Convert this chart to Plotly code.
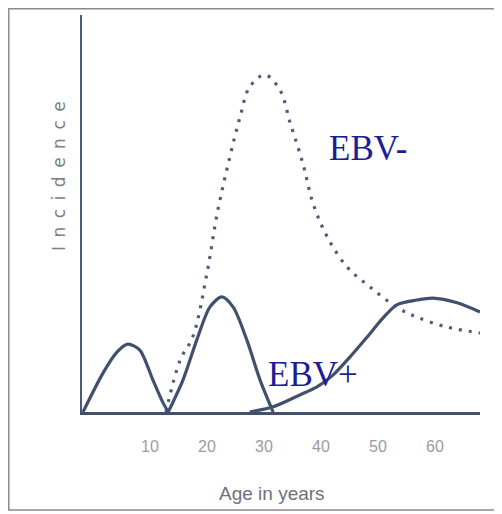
import plotly.graph_objects as go

# Age (years) and incidence (relative units, 0-100)
ebv_pos_age_1 = [-1.75, 1.75, 4.2, 6.1, 8.2, 10.5, 12.3, 13.2]
ebv_pos_inc_1 = [0, 9.8, 15.1, 17.1, 15.6, 8.1, 2.3, 0]

ebv_pos_age_2 = [13.2, 15.8, 18.2, 20.5, 22.6, 24.6, 27.0, 29.3, 31.6]
ebv_pos_inc_2 = [0, 8.1, 18.1, 26.4, 29.0, 26.4, 18.1, 8.1, 0]

ebv_pos_age_3 = [27.5, 31.6, 36.3, 39.3, 42.1, 45.1, 48.1, 50.9, 53.3, 56.8, 59.6, 63.9, 67.9]
ebv_pos_inc_3 = [0, 1.3, 4.3, 6.3, 9.3, 13.9, 18.9, 23.7, 27.0, 28.2, 28.7, 27.5, 25.2]

ebv_neg_age = [12.8, 15.3, 17.5, 20.0, 21.8, 24.0, 25.8, 27.5, 30.2, 32.8, 34.6,
               36.8, 38.6, 41.1, 44.6, 48.6, 53.3, 56.8, 62.1, 67.9]
ebv_neg_inc = [0, 13.1, 18.9, 35.0, 50.1, 64.2, 74.3, 81.9, 84.9, 81.1, 72.8,
               62.7, 52.6, 44.1, 36.5, 31.5, 26.4, 23.9, 21.4, 19.9]

tick_vals = [10, 20, 30, 40, 50, 60]
tick_text = ["10", "20", "30", "40", "50", "60"]

line_col = "#41516d"
OFF = 8  # page body margin in the browser

fig = go.Figure()
fig.add_trace(go.Scatter(x=ebv_neg_age, y=ebv_neg_inc, mode="lines",
                         line=dict(color="#4d5c78", width=3.2, dash="3px,7px", shape="spline"),
                         cliponaxis=False, showlegend=False))
for ax, ay in [(ebv_pos_age_1, ebv_pos_inc_1), (ebv_pos_age_2, ebv_pos_inc_2),
               (ebv_pos_age_3, ebv_pos_inc_3)]:
    fig.add_trace(go.Scatter(x=ax, y=ay, mode="lines",
                             line=dict(color=line_col, width=3.2, shape="spline", smoothing=0.8),
                             showlegend=False))

W, H = 502 - OFF, 514 - OFF
L, R, T, B = 82 - OFF, 502 - 480, 15 - OFF, 514 - 412
PW, PH = W - L - R, H - T - B


def px(xp):
    return (xp - OFF - L) / PW


def py(yp):
    return (H - B - (yp - OFF)) / PH


fig.update_layout(
    width=W, height=H,
    margin=dict(l=L, r=R, t=T, b=B),
    paper_bgcolor="white", plot_bgcolor="white",
    xaxis=dict(range=[-1.93, 67.9], showgrid=False, zeroline=False,
               showline=True, linecolor=line_col, linewidth=3,
               tickvals=tick_vals, ticktext=tick_text,
               ticks="outside", ticklen=18, tickcolor="rgba(0,0,0,0)",
               tickfont=dict(family="Liberation Sans Narrow, Liberation Sans", size=16, color="#9a9ca3")),
    yaxis=dict(range=[0, 100], showgrid=False, zeroline=False,
               showline=True, linecolor="#4a5b7a", linewidth=2,
               showticklabels=False, ticks=""),
    shapes=[dict(type="rect", xref="paper", yref="paper",
                 x0=px(8.8), x1=px(496), y0=py(510), y1=py(8.8),
                 line=dict(color="#8a8a8a", width=1.5))],
    annotations=[
        dict(text="Age in years", xref="paper", yref="paper",
             x=px(272), y=py(493), showarrow=False,
             font=dict(family="Liberation Sans Narrow, Liberation Sans", size=19, color="#6e717a"),
             xanchor="center", yanchor="middle"),
        dict(text="I\u2002n\u2002c\u2002i\u2002d\u2002e\u2002n\u2002c\u2002e", xref="paper", yref="paper",
             x=px(59), y=py(176), showarrow=False, textangle=-90,
             font=dict(family="DejaVu Sans", size=17, color="#7a7f8c"),
             xanchor="center", yanchor="middle"),
        dict(text="EBV-", xref="paper", yref="paper",
             x=px(368), y=py(148), showarrow=False,
             font=dict(family="Liberation Serif", size=35, color="#1c1f94"),
             xanchor="center", yanchor="middle"),
        dict(text="EBV+", xref="paper", yref="paper",
             x=px(313), y=py(374), showarrow=False,
             font=dict(family="Liberation Serif", size=35, color="#1c1f94"),
             xanchor="center", yanchor="middle"),
    ],
)

fig.write_html("out.html")
